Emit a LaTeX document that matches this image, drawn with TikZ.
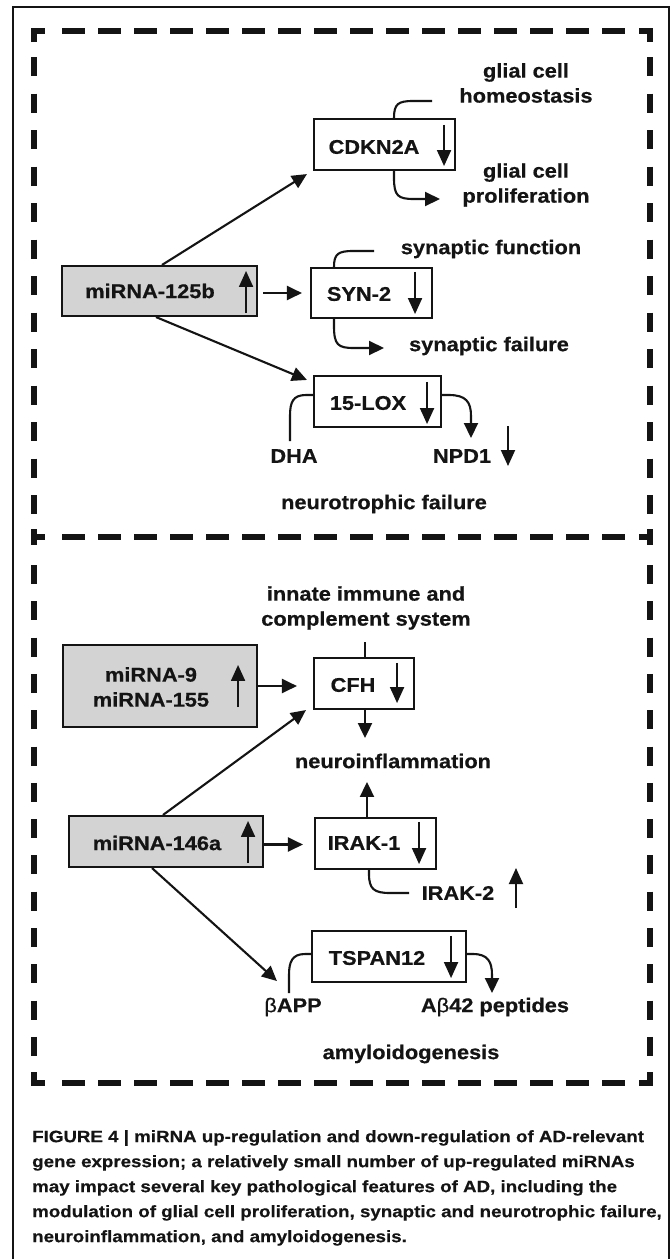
\documentclass[tikz,border=0pt]{standalone}
\usepackage{fontspec}
\newfontfamily\dfont[FakeStretch=1.1, FakeBold=0.6]{Liberation Sans}
\newfontfamily\cfont[FakeStretch=1.135, FakeBold=0.4]{Liberation Sans}
\usetikzlibrary{arrows.meta,calc}
\definecolor{boxgray}{RGB}{211,211,211}
\definecolor{ink}{RGB}{20,20,20}
\begin{document}
\begin{tikzpicture}[x=1pt,y=-1pt,
  every node/.style={font=\dfont\bfseries\fontsize{19.8}{25}\selectfont, text=ink, inner sep=0pt},
  genebox/.style={draw=ink, line width=2.1pt, fill=white, minimum height=51pt},
  mirbox/.style={draw=ink, line width=2.1pt, fill=boxgray, minimum height=50pt},
  conn/.style={draw=ink, line width=2.1pt, -{Triangle[length=15pt,width=14pt]}},
  plain/.style={draw=ink, line width=2.1pt},
  inarrow/.style={draw=ink, line width=1.9pt, -{Triangle[length=16pt,width=14pt]}},
  hdash/.style={draw=ink, line width=6.5pt, dash pattern=on 23pt off 13pt},
  vdash/.style={draw=ink, line width=6.5pt, dash pattern=on 19pt off 17.5pt},
  corner/.style={draw=ink, line width=6.5pt, miter limit=10},
  lbl/.style={align=center},
]
\useasboundingbox (0,0) rectangle (671,1259);
\fill[white] (0,0) rectangle (671,1259);
% outer thin frame
\draw[ink, line width=1.2pt] (13,1259) -- (13,7) -- (669,7) -- (669,1259);

% dashed borders
\foreach \yy in {31,537,1083} {\draw[hdash] (62,\yy) -- (626,\yy);}
\foreach \xx in {34,650} {
  \draw[vdash] (\xx,57) -- (\xx,517);
  \draw[vdash, dash pattern=on 19pt off 17.3pt] (\xx,565) -- (\xx,1057);
}
\draw[corner] (34,42) -- (34,31) -- (45,31);
\draw[corner] (639,31) -- (650,31) -- (650,42);
\draw[corner] (34,1072) -- (34,1083) -- (45,1083);
\draw[corner] (639,1083) -- (650,1083) -- (650,1072);
\draw[corner] (34,529) -- (34,545);
\draw[corner] (34,537) -- (45,537);
\draw[corner] (650,529) -- (650,545);
\draw[corner] (639,537) -- (650,537);

% ---------- upper panel ----------
\node[genebox, minimum width=141pt] (cdkn) at (384.5,144.5) {};
\node (cdknT) at (374,147) {CDKN2A};
\draw[inarrow] ([xshift=-12pt,yshift=-7pt]cdkn.north east) -- ([xshift=-12pt,yshift=5pt]cdkn.south east);

\node[mirbox, minimum width=195pt] (mir125) at (159.5,291) {};
\node (mir125T) at (150,291) {miRNA-125b};
\draw[inarrow] ([xshift=-12pt,yshift=4pt]mir125.south east) -- ([xshift=-12pt,yshift=-6pt]mir125.north east);

\node[genebox, minimum width=121pt, minimum height=50pt] (syn2) at (371.5,293) {};
\node (syn2T) at (359,294) {SYN-2};
\draw[inarrow] ([xshift=-18pt,yshift=-5pt]syn2.north east) -- ([xshift=-18pt,yshift=5pt]syn2.south east);

\node[genebox, minimum width=127pt] (lox) at (377.5,401.5) {};
\node (loxT) at (368,403) {15-LOX};
\draw[inarrow] ([xshift=-15pt,yshift=-7pt]lox.north east) -- ([xshift=-15pt,yshift=4pt]lox.south east);

\node[lbl] (homeo) at (526,83) {glial cell\\homeostasis};
\node[lbl] (prolif) at (526,185) {glial cell\\proliferation};
\node (synfun) at (491,249) {synaptic function};
\node (synfail) at (489,346) {synaptic failure};
\node (dha) at (294,456) {DHA};
\node (npd) at (462,456) {NPD1};
\node (neurotro) at (384,504) {neurotrophic failure};
\draw[inarrow] ($(npd)+(46,-30)$) -- ($(npd)+(46,10)$);

\coordinate (hoEnd) at (432,101);
\draw[plain] ([xshift=9.5pt]cdkn.north) .. controls (394,104) and (398,101) .. (413,101) -- (hoEnd);
\coordinate (prEnd) at (440,199);
\draw[conn] ([xshift=9.5pt]cdkn.south) -- (394,178) .. controls (394,196) and (398,199) .. (414,199) -- (prEnd);
\coordinate (sfEnd) at (374,251);
\draw[plain] ([xshift=-37.5pt]syn2.north) .. controls (334,254) and (338,251) .. (353,251) -- (sfEnd);
\coordinate (sfaEnd) at (384,348);
\draw[conn] ([xshift=-37.5pt]syn2.south) -- (334,326) .. controls (334,345) and (338,348) .. (354,348) -- (sfaEnd);
\coordinate (dhaEnd) at (290,441);
\draw[plain] ([yshift=6.5pt]lox.west) -- (306,395) .. controls (293,395) and (290,402) .. (290,416) -- (dhaEnd);
\coordinate (npdEnd) at (471,438);
\draw[conn] ([yshift=6.5pt]lox.east) -- (449,395) .. controls (466,395) and (471,402) .. (471,416) -- (npdEnd);

\draw[conn] ([xshift=2.5pt]mir125.north) -- ([xshift=-6pt,yshift=-3pt]cdkn.south west);
\draw[conn] ([xshift=5pt,yshift=-2pt]mir125.east) -- ([xshift=-8pt]syn2.west);
\draw[conn] ([xshift=-3.5pt]mir125.south) -- ([xshift=-6pt,yshift=-5pt]lox.north west);

% ---------- lower panel ----------
\node[lbl] (innate) at (366,608) {innate immune and\\complement system};
\node[mirbox, minimum width=194pt, minimum height=82pt] (mir9) at (160,686) {};
\node[lbl] (mir9T) at (151,687) {miRNA-9\\miRNA-155};
\draw[inarrow] ([xshift=-20pt,yshift=21pt]mir9.south east) -- ([xshift=-20pt,yshift=-21pt]mir9.north east);

\node[genebox, minimum width=100pt] (cfh) at (364,683.5) {};
\node (cfhT) at (353,685) {CFH};
\draw[inarrow] ([xshift=-18pt,yshift=-6pt]cfh.north east) -- ([xshift=-18pt,yshift=7pt]cfh.south east);

\node (neuro) at (393,761) {neuroinflammation};

\node[mirbox, minimum width=194pt, minimum height=51pt] (mir146) at (166,841.5) {};
\node (mir146T) at (157,843) {miRNA-146a};
\draw[inarrow] ([xshift=-16pt,yshift=5pt]mir146.south east) -- ([xshift=-16pt,yshift=-6pt]mir146.north east);

\node[genebox, minimum width=121pt] (irak1) at (375.5,843.5) {};
\node (irak1T) at (364,843) {IRAK-1};
\draw[inarrow] ([xshift=-18pt,yshift=-5pt]irak1.north east) -- ([xshift=-18pt,yshift=6pt]irak1.south east);

\node (irak2) at (458,893) {IRAK-2};
\draw[inarrow] ($(irak2)+(58,15)$) -- ($(irak2)+(58,-25)$);

\node[genebox, minimum width=154pt] (tspan) at (389,956.5) {};
\node (tspanT) at (377,958) {TSPAN12};
\draw[inarrow] ([xshift=-16pt,yshift=-6pt]tspan.north east) -- ([xshift=-16pt,yshift=5pt]tspan.south east);

\node (app) at (293,1007) {{\mdseries β}APP};
\node (abeta) at (495,1007) {A{\mdseries β}42 peptides};
\node (amyl) at (411,1054) {amyloidogenesis};

\draw[plain] ([xshift=1pt]cfh.north) -- ++(0,-15);
\draw[conn] (mir9.east) -- ($(mir9.east -| cfh.west)+(-16,0)$);
\draw[conn] ([xshift=1pt]cfh.south) -- ++(0,28);
\draw[conn] ([xshift=-8.5pt]irak1.north) -- ++(0,-35);
\draw[conn] ([xshift=-3pt]mir146.north) -- ([xshift=-7pt]cfh.south west);
\draw[conn] ($(mir146.east)+(0,3)$) -- ($(mir146.east -| irak1.west)+(-11,3)$);
\draw[conn] ([xshift=-14pt]mir146.south) -- ([xshift=-34pt,yshift=2pt]tspan.south west);

\coordinate (ir2End) at (409,893);
\draw[plain] ([xshift=-6.5pt]irak1.south) -- (369,874) .. controls (369,889) and (374,893) .. (390,893) -- (ir2End);
\coordinate (appEnd) at (289,993);
\draw[plain] ([yshift=2.5pt]tspan.west) -- (305,954) .. controls (292,954) and (289,962) .. (289,975) -- (appEnd);
\coordinate (abEnd) at (492,993);
\draw[conn] ([yshift=2.5pt]tspan.east) -- (473,954) .. controls (488,954) and (492,962) .. (492,975) -- (abEnd);

% ---------- caption ----------
\node[font=\cfont\bfseries\fontsize{16.5}{25}\selectfont, align=left, anchor=north west] (caption) at (32,1130)
 {FIGURE 4 | miRNA up-regulation and down-regulation of AD-relevant\\
  gene expression; a relatively small number of up-regulated miRNAs\\
  may impact several key pathological features of AD, including the\\
  modulation of glial cell proliferation, synaptic and neurotrophic failure,\\
  neuroinflammation, and amyloidogenesis.};
\end{tikzpicture}
\end{document}
